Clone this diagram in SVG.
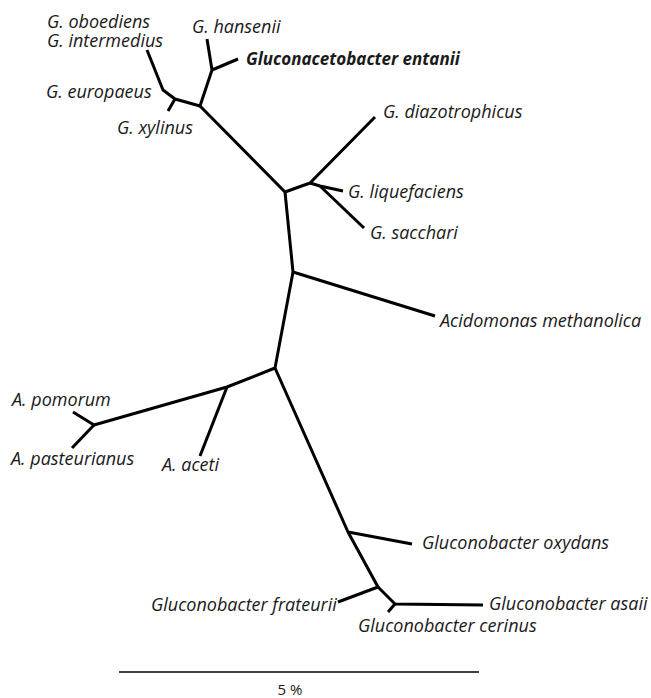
<svg xmlns="http://www.w3.org/2000/svg" width="651" height="698" viewBox="0 0 651 698">
<style>
.b{fill:none;stroke:#000;stroke-width:3;stroke-linecap:butt;stroke-linejoin:round}
.t{font-family:"Open Sans","Noto Sans",sans-serif;font-style:italic;font-size:18px;fill:#1a1a1a}
.bold{font-weight:bold;font-size:17px}
</style>
<rect width="651" height="698" fill="#fff"/>
<g id="connectors">
<polyline class="b" points="147,50 163,90 175,99 200,106 212,70 207,39"/>
<polyline class="b" points="212,70 238,59"/>
<polyline class="b" points="175,99 168,111"/>
<polyline class="b" points="200,106 285,192 310,183 375,117"/>
<polyline class="b" points="310,183 320,186 343,191"/>
<polyline class="b" points="320,186 364,228"/>
<polyline class="b" points="285,192 293,272 435,316"/>
<polyline class="b" points="293,272 275,368 227,387 94,425 73,412"/>
<polyline class="b" points="94,425 72,448"/>
<polyline class="b" points="227,387 200,456"/>
<polyline class="b" points="275,368 348,532 412,544"/>
<polyline class="b" points="348,532 378,587 338,602"/>
<polyline class="b" points="378,587 395,604 483,605"/>
<polyline class="b" points="395,604 388,612"/>
</g>
<g id="n-oboediens"><text class="t" x="47" y="28">G. oboediens<tspan x="47" dy="19">G. intermedius</tspan></text></g>
<g id="n-hansenii"><text class="t" x="192" y="33">G. hansenii</text></g>
<g id="n-entanii"><text class="t bold" x="246" y="65">Gluconacetobacter entanii</text></g>
<g id="n-europaeus"><text class="t" x="46" y="98">G. europaeus</text></g>
<g id="n-xylinus"><text class="t" x="117" y="134">G. xylinus</text></g>
<g id="n-diazotrophicus"><text class="t" x="383" y="118">G. diazotrophicus</text></g>
<g id="n-liquefaciens"><text class="t" x="348" y="198">G. liquefaciens</text></g>
<g id="n-sacchari"><text class="t" x="370" y="239">G. sacchari</text></g>
<g id="n-acidomonas"><text class="t" x="440" y="327">Acidomonas methanolica</text></g>
<g id="n-pomorum"><text class="t" x="12" y="406">A. pomorum</text></g>
<g id="n-pasteurianus"><text class="t" x="11" y="465">A. pasteurianus</text></g>
<g id="n-aceti"><text class="t" x="162" y="471">A. aceti</text></g>
<g id="n-oxydans"><text class="t" x="422" y="549">Gluconobacter oxydans</text></g>
<g id="n-frateurii"><text class="t" x="151" y="611">Gluconobacter frateurii</text></g>
<g id="n-asaii"><text class="t" x="489" y="610">Gluconobacter asaii</text></g>
<g id="n-cerinus"><text class="t" x="358" y="632">Gluconobacter cerinus</text></g>
<g id="scale">
<line x1="119" y1="672" x2="479" y2="672" stroke="#000" stroke-width="1.5"/>
<text x="290" y="695" text-anchor="middle" font-family="Open Sans, sans-serif" font-size="15" fill="#1a1a1a">5 %</text>
</g>
</svg>
